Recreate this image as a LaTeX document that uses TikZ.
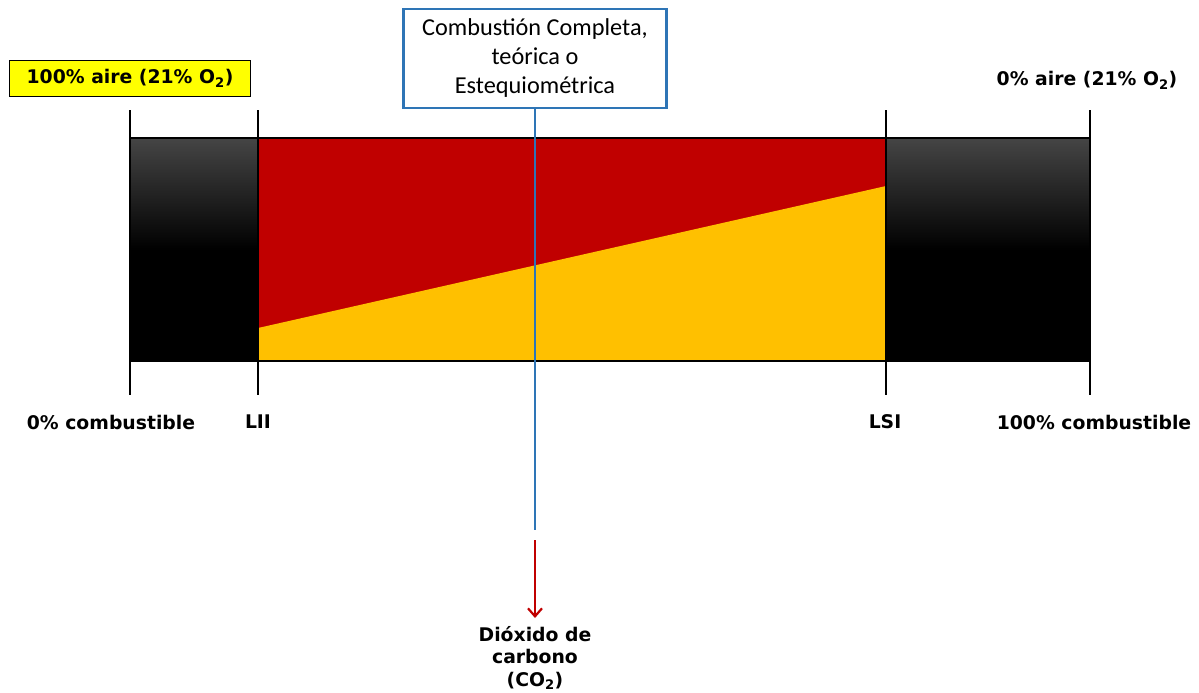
\documentclass[tikz,border=0pt]{standalone}
\usepackage{fontspec}
\setmainfont{DejaVu Sans}
\newfontfamily\calib{Carlito}
\usetikzlibrary{arrows.meta}
\definecolor{fred}{HTML}{C00000}
\definecolor{fyel}{HTML}{FFC000}
\definecolor{lyel}{HTML}{FFFF00}
\definecolor{bblue}{HTML}{2E75B6}
\definecolor{dgray}{HTML}{454545}
\tikzset{
  lbl/.style={font=\fontsize{18.8}{23}\selectfont\bfseries, inner sep=0pt},
  tick/.style={line width=2.3pt, black},
}
\begin{document}
\begin{tikzpicture}[x=1pt,y=-1pt]
\useasboundingbox (0,0) rectangle (1199,693);
% left black bar
\fill[black] (130,138) rectangle (258,361);
\shade[top color=dgray, bottom color=black] (130,138) rectangle (258,250);
% right black bar
\fill[black] (886,138) rectangle (1090,361);
\shade[top color=dgray, bottom color=black] (886,138) rectangle (1090,250);
% middle
\fill[fred] (258,138) rectangle (886,361);
\fill[fyel] (258,328) -- (886,186) -- (886,361) -- (258,361) -- cycle;
\draw[line width=1.2pt, black] (130,138) rectangle (1090,361);
% ticks
\foreach \x in {130,258,886,1090} \draw[tick] (\x,110) -- (\x,395);
% labels
\node[lbl, draw=black, line width=1.2pt, fill=lyel, minimum width=241pt, minimum height=36pt] (air100) at (130,78.5) {100\% aire (21\% O\textsubscript{2})};
\node[lbl] (air0) at (1087,80) {0\% aire (21\% O\textsubscript{2})};
\node[lbl] (c0) at (111,422) {0\% combustible};
\node[lbl] (lii) at (258,422) {LII};
\node[lbl] (lsi) at (885,422) {LSI};
\node[lbl] (c100) at (1094,422) {100\% combustible};
% blue box
\node[draw=bblue, line width=2.8pt, fill=white, minimum width=263pt, minimum height=99pt, align=center, font=\calib\fontsize{24.3}{29}\selectfont, inner sep=0pt] (box) at (535,58.5) {Combusti\'on Completa,\\te\'orica o\\Estequiom\'etrica};
\coordinate (lineend) at (535,530);
\coordinate (arrstart) at (535,540);
\draw[bblue, line width=2.4pt] (box.south) -- (lineend);
\node[lbl, align=center, font=\fontsize{18.8}{22.5}\selectfont\bfseries] (co2) at (535,658) {Di\'oxido de\\carbono\\(CO\textsubscript{2})};
\draw[fred, line width=2.2pt, -{Straight Barb[length=8pt,width=14pt]}] (arrstart) -- (535,618);
\end{tikzpicture}
\end{document}
